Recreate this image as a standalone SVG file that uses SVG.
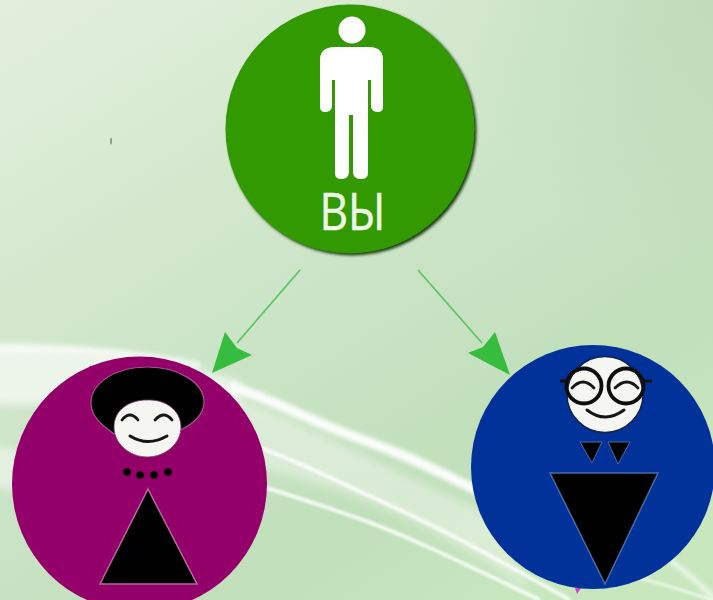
<svg xmlns="http://www.w3.org/2000/svg" width="713" height="600" viewBox="0 0 713 600">
<style>
.streak{fill:none;stroke:#fff;stroke-linecap:butt}
.edge{stroke:#45c04e;stroke-width:1.700;fill:none;opacity:.85}
.head{fill:#36bd3f}
.dark{fill:#000}
.face{fill:#f5f5f2}
.ink{fill:none;stroke:#161616;stroke-linecap:round}
</style>
<defs>
<linearGradient id="bg" x1="0" y1="0" x2="0.75" y2="1">
<stop offset="0" stop-color="#e2efdc"/><stop offset=".25" stop-color="#d8ead2"/><stop offset=".55" stop-color="#cae3c5"/><stop offset=".8" stop-color="#c1dfbb"/><stop offset="1" stop-color="#c8e7bf"/>
</linearGradient>
<radialGradient id="cornerTR" gradientUnits="userSpaceOnUse" cx="713" cy="0" r="260"><stop offset="0" stop-color="#b9d8b3" stop-opacity=".7"/><stop offset="1" stop-color="#b9d8b3" stop-opacity="0"/></radialGradient>
<filter id="b4" filterUnits="userSpaceOnUse" x="-90" y="300" width="900" height="360"><feGaussianBlur stdDeviation="4"/></filter>
<filter id="b2" filterUnits="userSpaceOnUse" x="-90" y="300" width="900" height="360"><feGaussianBlur stdDeviation="2.200"/></filter>
<filter id="b1" filterUnits="userSpaceOnUse" x="-90" y="300" width="900" height="360"><feGaussianBlur stdDeviation="1.200"/></filter>
<filter id="shadow" filterUnits="userSpaceOnUse" x="200" y="-20" width="300" height="300"><feGaussianBlur stdDeviation="1.800"/></filter>
<filter id="soft" x="-5%" y="-5%" width="110%" height="110%"><feGaussianBlur stdDeviation=".6"/></filter>
</defs>
<rect width="713" height="600" fill="url(#bg)"/>
<rect width="713" height="600" fill="url(#cornerTR)"/>
<g id="background-streaks">
<path d="M-40 346C90 344 170 358 240 382V420C170 410 90 404 -40 404Z" fill="#fff" opacity=".62" filter="url(#b4)"/>
<path d="M-40 348C60 347 140 352 200 366" class="streak" stroke-width="8" opacity=".6" filter="url(#b2)"/>
<path d="M-40 445C8 445 20 450 40 456V496C20 490 8 488 -40 486Z" fill="#fff" opacity=".45" filter="url(#b4)"/>
<path d="M230 395C300 420 360 455 490 515L530 590C420 515 320 480 262 470Z" fill="#eef4ea" opacity=".55" filter="url(#b4)"/>
<path d="M230 386C265 397 290 410 313 420C345 434 375 444 397 453C425 464 445 475 490 497" class="streak" stroke-width="10" opacity=".92" filter="url(#b2)"/>
<path d="M260 448C300 462 335 480 363 493C405 512 450 532 570 600" class="streak" stroke-width="4" opacity=".8" filter="url(#b1)"/>
<path d="M260 486C300 498 335 510 363 520C405 535 450 557 540 600" class="streak" stroke-width="4" opacity=".8" filter="url(#b1)"/>
<path d="M652 548C675 562 695 580 730 612" class="streak" stroke-width="5" opacity=".65" filter="url(#b2)"/>
<path d="M630 575C660 584 690 592 730 606" class="streak" stroke-width="3" opacity=".6" filter="url(#b1)"/>
</g>
<ellipse cx="111" cy="141" rx=".8" ry="3.500" fill="#6d8a6d"/>
<g id="connectors">
<line class="edge" x1="300" y1="270" x2="237" y2="343"/>
<polygon class="head" points="212,373 225,332 237,348 252,355"/>
<line class="edge" x1="418" y1="270" x2="482" y2="343"/>
<polygon class="head" points="510,375 468,353 483,347 495,332"/>
</g>
<g id="node-you">
<circle cx="352" cy="131" r="124.500" fill="#143a0c" filter="url(#shadow)"/>
<circle cx="350" cy="129" r="124.500" fill="#339900" filter="url(#soft)"/>
<g filter="url(#soft)">
<circle cx="352" cy="30" r="13.500" fill="#fff"/>
<path d="M333 47H371Q383 48 383 60V107Q383 112 378 112Q372 112 371 107V80H368V173Q368 179 361 179Q354 179 353 173V115H349V173Q348 179 341 179Q335 179 335 173V80H332V107Q331 112 325 112Q320 112 320 107V60Q320 48 333 47Z" fill="#fff"/>
</g>
<text x="352.500" y="230" font-family="'Open Sans','Noto Sans',sans-serif" font-size="51" text-anchor="middle" fill="#eef8e6" stroke="#eef8e6" stroke-width=".5" textLength="66" lengthAdjust="spacingAndGlyphs">ВЫ</text>
</g>
<g id="node-woman">
<path d="M64 588L80 585L80 590Z" fill="#ee22cc"/>
<circle cx="139.500" cy="484" r="127.500" fill="#93006a" filter="url(#soft)"/>
<g filter="url(#soft)">
<path d="M147 367C114 367 91 384 91 403C91 417 102 425 114 434L180 430C194 424 204 414 204 402C204 383 179 367 147 367Z" class="dark" stroke="#a9548d" stroke-width="1.200"/>
<path d="M147 400C165 399 181 410 181 427C181 444 165 457 147 457C130 457 114 444 114 427C114 410 129 400 147 400Z" class="face" stroke="#7a3a63" stroke-width=".8"/>
<path d="M122 420Q130 410 138 420M155 420Q164 410 172 420" class="ink" stroke-width="2.800"/>
<path d="M130 436Q148 447 167 436" class="ink" stroke-width="3"/>
<circle cx="127" cy="472" r="3.800" class="dark"/><circle cx="140" cy="475" r="3.800" class="dark"/><circle cx="154" cy="475" r="3.800" class="dark"/><circle cx="168" cy="472" r="3.800" class="dark"/>
<polygon points="148,489 197,584 100,584" class="dark" stroke="#b5689b" stroke-width="1.500"/>
</g>
</g>
<g id="node-man">
<path d="M575 588L581 588L577 594Z" fill="#cc44cc"/>
<circle cx="593" cy="467" r="122" fill="#043399" filter="url(#soft)"/>
<g filter="url(#soft)">
<circle cx="605" cy="394.500" r="38" class="face" stroke="#16244d" stroke-width="1.500"/>
<circle cx="584" cy="386" r="17.500" fill="none" stroke="#111" stroke-width="3.800"/>
<circle cx="626" cy="386" r="17.500" fill="none" stroke="#111" stroke-width="3.800"/>
<path d="M560 381H567M643 381H652" stroke="#111" stroke-width="3"/>
<path d="M572 388Q583 376 594 388M615 388Q627 376 638 388" class="ink" stroke-width="2.800"/>
<path d="M587 410Q605 424 624 410" class="ink" stroke-width="3"/>
<polygon points="580,442 602,442 592,463" class="dark" stroke="#4a6aa8"/>
<polygon points="608,442 630,442 618,464" class="dark" stroke="#4a6aa8"/>
<polygon points="550,473 658,473 605,584" class="dark" stroke="#4a6aa8" stroke-width="1.500"/>
</g>
</g>
</svg>
